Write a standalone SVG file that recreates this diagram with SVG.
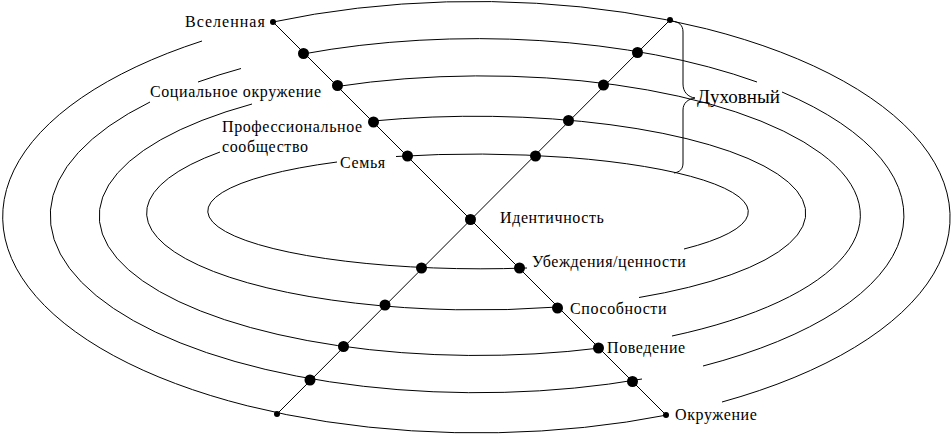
<svg xmlns="http://www.w3.org/2000/svg" width="952" height="434" viewBox="0 0 952 434">
<style>
.ring{fill:none;stroke:#000;stroke-width:1}
.conn{fill:none;stroke:#000;stroke-width:1}
.dot{fill:#000}
text{fill:#000}
</style>
<rect width="952" height="434" fill="#fff"/>
<g id="rings">
<g id="ring1">
<path class="ring" d="M273,22 A475,216 0 0 1 722,402"/>
<path class="ring" d="M667,415 A475,216 0 0 1 202,41"/>
</g>
<g id="ring2">
<path class="ring" d="M303,54 A427,177 0 0 1 757,82"/>
<path class="ring" d="M782,92 A427,177 0 0 1 703,366"/>
<path class="ring" d="M642,379 A427,177 0 0 1 150,102"/>
<path class="ring" d="M198,82 A427,177 0 0 1 241,68.5"/>
</g>
<g id="ring3">
<path class="ring" d="M337,86.5 A378.5,139.5 0 0 1 672,336"/>
<path class="ring" d="M600,348 A378.5,139.5 0 0 1 252,104"/>
</g>
<g id="ring4">
<path class="ring" d="M373,121 A330.5,97 0 0 1 639,297.5"/>
<path class="ring" d="M558,307 A330.5,97 0 0 1 220,152"/>
</g>
<g id="ring5">
<path class="ring" d="M396,156.5 A273.5,57.75 0 0 1 684,249"/>
<path class="ring" d="M527,268 A273.5,57.75 0 0 1 337,162"/>
</g>
</g>
<g id="connectors">
<line class="conn" x1="273" y1="22" x2="666" y2="415"/>
<line class="conn" x1="670" y1="20" x2="277" y2="414"/>
<path id="brace" class="conn" d="M672,21 C679,22 683,25 683,32 L683,84 C683,92 688,97 695,98 C688,99 683,103 683,110 L683,163 C683,169 680,172 674,173"/>
</g>
<g id="dots">
<circle class="dot" cx="273" cy="22" r="3"/>
<circle class="dot" cx="670" cy="20" r="3"/>
<circle class="dot" cx="277" cy="414" r="3"/>
<circle class="dot" cx="666" cy="415" r="3"/>
<circle class="dot" cx="303.5" cy="53.5" r="5.5"/>
<circle class="dot" cx="337.5" cy="85.5" r="5.5"/>
<circle class="dot" cx="373.5" cy="122" r="5.5"/>
<circle class="dot" cx="407.5" cy="156" r="5.5"/>
<circle class="dot" cx="637.5" cy="52.5" r="5.5"/>
<circle class="dot" cx="603.5" cy="85" r="5.5"/>
<circle class="dot" cx="568.5" cy="120.5" r="5.5"/>
<circle class="dot" cx="535.5" cy="156" r="5.5"/>
<circle class="dot" cx="470.5" cy="219.5" r="5.5"/>
<circle class="dot" cx="421.5" cy="268" r="5.5"/>
<circle class="dot" cx="519.5" cy="268" r="5.5"/>
<circle class="dot" cx="385" cy="305" r="5.5"/>
<circle class="dot" cx="557.5" cy="308" r="5.5"/>
<circle class="dot" cx="343.5" cy="346.5" r="5.5"/>
<circle class="dot" cx="598.5" cy="348" r="5.5"/>
<circle class="dot" cx="310" cy="380" r="5.5"/>
<circle class="dot" cx="632.5" cy="381.5" r="5.5"/>
</g>
<g id="labels" font-family="Liberation Serif, serif" font-size="16">
<text id="n-vselennaya" x="185" y="27" letter-spacing="1">Вселенная</text>
<text id="n-social" x="150" y="97" letter-spacing="0.6">Социальное окружение</text>
<text id="n-prof" x="222" y="132" letter-spacing="0.6">Профессиональное</text>
<text id="n-prof2" x="222" y="152" letter-spacing="0.6">сообщество</text>
<text id="n-semya" x="340" y="168" letter-spacing="0.6">Семья</text>
<text id="n-dukh" x="697" y="103" font-size="19">Духовный</text>
<text id="n-ident" x="500" y="223" letter-spacing="0.6">Идентичность</text>
<text id="n-ubezh" x="532" y="267" letter-spacing="0.55">Убеждения/ценности</text>
<text id="n-spos" x="570" y="314" letter-spacing="0.6">Способности</text>
<text id="n-pov" x="607" y="353" letter-spacing="0.6">Поведение</text>
<text id="n-okr" x="675" y="420" letter-spacing="0.6">Окружение</text>
</g>
</svg>
